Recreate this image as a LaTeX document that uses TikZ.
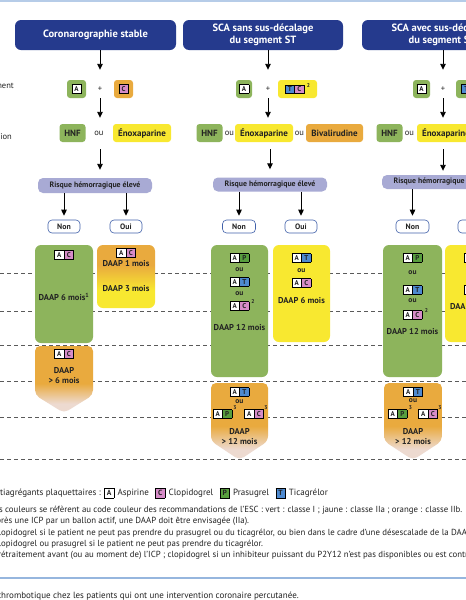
\documentclass[tikz,border=0pt]{standalone}
\usepackage{fontspec}
\setmainfont{PT Sans}
\usetikzlibrary{arrows.meta}
\definecolor{hblue}{RGB}{37,58,141}
\definecolor{gC}{RGB}{141,180,92}
\definecolor{yC}{RGB}{248,232,48}
\definecolor{oC}{RGB}{233,170,62}
\definecolor{lavC}{RGB}{168,170,212}
\definecolor{nbC}{RGB}{66,98,170}
\definecolor{paleC}{RGB}{237,218,208}
\definecolor{pkC}{RGB}{214,140,200}
\definecolor{prC}{RGB}{88,158,62}
\definecolor{tbC}{RGB}{78,138,208}
\definecolor{dashC}{RGB}{90,90,90}
\definecolor{lineC}{RGB}{150,182,222}
\definecolor{txtC}{RGB}{35,35,35}
\setlength{\fboxrule}{0.5pt}
\setlength{\fboxsep}{0pt}
\newcommand{\dsq}[2]{\fcolorbox{black}{#1}{\parbox[c][8.4pt][c]{9pt}{\centering\fontsize{7}{7.5}\selectfont\bfseries #2}}}
\newcommand{\lsq}[2]{\fcolorbox{black}{#1}{\parbox[c][9pt][c]{9pt}{\centering\fontsize{7.5}{8}\selectfont\bfseries #2}}}
\newcommand{\dgA}{\dsq{white}{A}}
\newcommand{\dgC}{\dsq{pkC}{C}}
\newcommand{\dgP}{\dsq{prC}{P}}
\newcommand{\dgT}{\dsq{tbC}{T}}
\newcommand{\pairsep}{\kern-0.5pt}
\pgfdeclareverticalshading{arrowfade}{100bp}{color(0bp)=(paleC); color(32bp)=(paleC); color(47bp)=(oC); color(100bp)=(oC)}
\pgfdeclareverticalshading{oyfade}{100bp}{color(0bp)=(yC); color(39bp)=(yC); color(59bp)=(oC); color(100bp)=(oC)}
\begin{document}
\begin{tikzpicture}[x=1pt,y=-1pt,
 hdr/.style={fill=hblue, rounded corners=6pt, text=white, font=\bfseries\fontsize{10.5}{12.5}\selectfont, minimum width=160, minimum height=30, inner sep=0pt, align=center},
 drug/.style={rounded corners=3pt, minimum height=18, inner sep=0pt, font=\bfseries\fontsize{9}{10}\selectfont, text=txtC},
 word/.style={inner sep=0pt, minimum height=18, font=\fontsize{8.5}{9}\selectfont, text=txtC},
 risk/.style={fill=lavC, rounded corners=5pt, minimum width=114, minimum height=15, inner sep=0pt, font=\bfseries\fontsize{7.8}{8}\selectfont, text=txtC},
 yn/.style={draw=nbC, line width=0.6pt, fill=white, rounded corners=4pt, minimum width=32, minimum height=13, inner sep=0pt, font=\bfseries\fontsize{7.8}{8}\selectfont, text=txtC},
 big/.style={rounded corners=6pt, inner sep=0pt},
 lbl/.style={inner sep=0pt, font=\bfseries\fontsize{8.5}{9}\selectfont, text=txtC},
 ouw/.style={inner sep=0pt, font=\bfseries\fontsize{7.5}{8}\selectfont, text=txtC},
 sup/.style={inner sep=0pt, font=\bfseries\fontsize{5.5}{5.5}\selectfont, text=txtC},
 arr/.style={-{Triangle[length=6pt,width=5.5pt]}, line width=0.9pt},
 dashline/.style={dashC, line width=0.8pt, dash pattern=on 4pt off 3pt},
 note/.style={inner sep=0pt, anchor=base west, font=\fontsize{8.8}{10}\selectfont, text=txtC},
 leg/.style={inner sep=0pt, anchor=west, font=\fontsize{9}{10}\selectfont, text=txtC},
 side/.style={inner sep=0pt, anchor=east, font=\fontsize{8.5}{9}\selectfont, text=txtC}
]
\useasboundingbox (0,0) rectangle (466,600);
\clip (0,0) rectangle (466,600);
\fill[white] (0,0) rectangle (466,600);
\draw[lineC!70, line width=2pt] (0,1) -- (466,1);

% dashed guide lines
\foreach \yy in {273,311,345,381,417,459} {\draw[dashline] (0,\yy) -- (466,\yy);}

% headers
\node[hdr, minimum width=161] (h1) at (95.5,35) {Coronarographie stable};
\node[hdr] (h2) at (263,35) {SCA sans sus-décalage\\du segment ST};
\node[hdr] (h3) at (442,35) {SCA avec sus-décalage\\du segment ST};

% side labels
\node[side] (s1) at (14,86) {Traitement};
\node[side] (s2) at (12,137) {Anticoagulation};

% row 1
\node[drug, fill=gC, minimum width=19] (a1) at (76.5,89) {\dgA};
\node[word, minimum width=8] (p1) at (100,89) {+};
\node[drug, fill=oC, minimum width=19] (c1) at (123.5,89) {\dgC};
\node[drug, fill=gC, minimum width=16] (a2) at (244,89) {\dgA};
\node[word, minimum width=8] (p2) at (268,89) {+};
\node[drug, fill=yC, minimum width=39] (tc2) at (297.5,89) {\dgT\pairsep\dgC\hspace{2.5pt}\raisebox{3.5pt}{\fontsize{5.5}{5.5}\selectfont\bfseries 2}};
\node[drug, fill=gC, minimum width=17] (a3) at (421.5,89) {\dgA};
\node[word, minimum width=8] (p3) at (443,89) {+};
\node[drug, fill=gC, minimum width=30] (tp3) at (471,89) {\dgT\pairsep\dgP};

% row 2
\node[drug, fill=gC, minimum width=26] (hn1) at (72.5,133) {HNF};
\node[word] (o1) at (99,133) {ou};
\node[drug, fill=yC, minimum width=58] (en1) at (142,133) {Énoxaparine};
\node[drug, fill=gC, minimum width=26] (hn2) at (209.5,133) {HNF};
\node[word] (o2a) at (229.5,133) {ou};
\node[drug, fill=yC, minimum width=58] (en2) at (264,133) {Énoxaparine};
\node[word] (o2b) at (299.5,133) {ou};
\node[drug, fill=oC, minimum width=57] (bv2) at (334.5,133) {Bivalirudine};
\node[drug, fill=gC, minimum width=26] (hn3) at (389.5,133) {HNF};
\node[word] (o3) at (409.5,133) {ou};
\node[drug, fill=yC, minimum width=58] (en3) at (446,133) {Énoxaparine};

% risk
\node[risk] (k1) at (95,185.5) {Risque hémorragique élevé};
\node[risk, minimum height=14] (k2) at (270,184.5) {Risque hémorragique élevé};
\node[risk, minimum height=14] (k3) at (439,182) {Risque hémorragique élevé};

% non / oui
\node[yn] (n1) at (64,226.5) {Non};
\node[yn] (y1) at (126,226.5) {Oui};
\node[yn, minimum width=33] (n2) at (239,226.5) {Non};
\node[yn] (y2) at (301,226.5) {Oui};
\node[yn, minimum width=33] (n3) at (412.5,226.5) {Non};
\node[yn] (y3) at (474,226.5) {Oui};

% connectors
\draw[arr, shorten >=10pt] (h1.south -| p1) -- (p1.north);
\draw[arr, shorten >=6pt] (p1.south) -- (p1.south |- o1.north);
\draw[arr, shorten <=7pt, shorten >=8pt] (o1.south -| p1) -- (k1.north -| p1);
\draw[arr, shorten >=10pt] (h2.south -| p2) -- (p2.north);
\draw[arr, shorten >=6pt] (p2.south) -- (p2.south |- en2.north);
\draw[arr, shorten <=7pt, shorten >=8pt] (en2.south -| k2) -- (k2.north);
\draw[arr, shorten >=10pt] (h3.south -| p3) -- (p3.north);
\draw[arr, shorten >=6pt] (p3.south) -- (p3.south |- en3.north);
\draw[arr, shorten <=7pt, shorten >=4pt] (en3.south -| p3) -- (k3.north -| p3);
\draw[arr, shorten >=4pt] (k1.south -| n1) -- (n1.north);
\draw[arr, shorten >=4pt] (k1.south -| y1) -- (y1.north);
\draw[arr, shorten >=4pt] (k2.south -| n2) -- (n2.north);
\draw[arr, shorten >=4pt] (k2.south -| y2) -- (y2.north);
\draw[arr, shorten >=4pt] (k3.south -| n3) -- (n3.north);
\draw[arr, shorten >=4pt] (k3.south -| y3) -- (y3.north);

% big boxes
\node[big, fill=gC, minimum width=58, minimum height=98] (g1) at (64,294) {};
\node[big, shade, shading=oyfade, minimum width=58, minimum height=63] (ob1) at (126,276.5) {};
\node[big, fill=gC, minimum width=57, minimum height=132] (g2) at (239.5,311) {};
\node[big, fill=yC, minimum width=57, minimum height=97] (yb2) at (301.5,293.5) {};
\node[big, fill=gC, minimum width=59, minimum height=132] (g3) at (412.5,311) {};
\node[big, fill=yC, minimum width=57, minimum height=97] (yb3) at (473.5,293.5) {};

% faded arrows
\path[shade, shading=arrowfade, rounded corners=5pt] (64,346) -- (93,346) -- (93,395) -- (64,413) -- (35,395) -- (35,346) -- cycle;
\path[shade, shading=arrowfade, rounded corners=5pt] (239.5,383) -- (268,383) -- (268,441) -- (239.5,460) -- (211,441) -- (211,383) -- cycle;
\path[shade, shading=arrowfade, rounded corners=5pt] (413,383) -- (442,383) -- (442,441) -- (413,460) -- (384,441) -- (384,383) -- cycle;

% column 1 contents
\node[lbl] (t1a) at (64,255) {\dgA\pairsep\dgC};
\node[lbl] (t1b) at (64,297) {DAAP 6 mois\textsuperscript{1}};
\node[lbl] (t1c) at (126,253) {\dgA\pairsep\dgC};
\node[lbl] (t1d) at (126,264) {DAAP 1 mois};
\node[lbl] (t1e) at (126,289) {DAAP 3 mois};
\node[lbl] (t1f) at (64,354) {\dgA\pairsep\dgC};
\node[lbl] (t1g) at (64,371) {DAAP};
\node[lbl] (t1h) at (64,381) {> 6 mois};

% column 2 contents
\node[lbl] (t2a) at (239.5,258) {\dgA\pairsep\dgP};
\node[ouw] (t2b) at (239.5,270) {ou};
\node[lbl] (t2c) at (239.5,282) {\dgA\pairsep\dgT};
\node[ouw] (t2d) at (239.5,294) {ou};
\node[lbl] (t2e) at (239.5,306) {\dgA\pairsep\dgC};
\node[sup] (t2f) at (253,302) {2};
\node[lbl] (t2g) at (239.5,328) {DAAP 12 mois};
\node[lbl] (t2h) at (301.5,258) {\dgA\pairsep\dgT};
\node[ouw] (t2i) at (301.5,271) {ou};
\node[lbl] (t2j) at (301.5,283) {\dgA\pairsep\dgC};
\node[lbl] (t2k) at (301.5,301) {DAAP 6 mois};
\node[lbl] (t2l) at (239.5,392) {\dgA\pairsep\dgT};
\node[ouw] (t2m) at (239.5,402) {ou};
\node[lbl] (t2n) at (222.5,414) {\dgA\pairsep\dgP};
\node[sup] (t2o) at (235,408) {3};
\node[lbl] (t2p) at (254,414) {\dgA\pairsep\dgC};
\node[sup] (t2q) at (266,408) {3};
\node[lbl] (t2r) at (239.5,432) {DAAP};
\node[lbl] (t2s) at (239.5,442) {> 12 mois};

% column 3 contents
\node[lbl] (t3a) at (412.5,258) {\dgA\pairsep\dgP};
\node[ouw] (t3b) at (412.5,273) {ou};
\node[lbl] (t3c) at (412.5,290) {\dgA\pairsep\dgT};
\node[ouw] (t3d) at (412.5,301) {ou};
\node[lbl] (t3e) at (412.5,315) {\dgA\pairsep\dgC};
\node[sup] (t3f) at (426.5,311) {2};
\node[lbl] (t3g) at (412.5,332) {DAAP 12 mois};
\node[lbl] (t3h) at (473.5,258) {\dgA\pairsep\dgT};
\node[ouw] (t3i) at (473.5,273) {ou};
\node[lbl] (t3j) at (473.5,290) {\dgA\pairsep\dgP};
\node[lbl] (t3k) at (473.5,307) {DAAP 6 mois};
\node[lbl] (t3l) at (413,392) {\dgA\pairsep\dgT};
\node[ouw] (t3m) at (413,401) {ou};
\node[lbl] (t3n) at (397.5,414) {\dgA\pairsep\dgP};
\node[sup] (t3o) at (410.5,408) {3};
\node[lbl] (t3p) at (428,414) {\dgA\pairsep\dgC};
\node[sup] (t3q) at (440,408) {3};
\node[lbl] (t3r) at (413,432) {DAAP};
\node[lbl] (t3s) at (413,442) {> 12 mois};

% legend
\node[leg, anchor=east] (lg0) at (101,493) {Antiagrégants plaquettaires :};
\node[leg] (lgA) at (104,493) {\lsq{white}{A}};
\node[leg] (lgAt) at ([xshift=3pt]lgA.east) {Aspirine};
\node[leg] (lgC) at ([xshift=6pt]lgAt.east) {\lsq{pkC}{C}};
\node[leg] (lgCt) at ([xshift=3pt]lgC.east) {Clopidogrel};
\node[leg] (lgP) at ([xshift=6pt]lgCt.east) {\lsq{prC}{P}};
\node[leg] (lgPt) at ([xshift=3pt]lgP.east) {Prasugrel};
\node[leg] (lgT) at ([xshift=6pt]lgPt.east) {\lsq{tbC}{T}};
\node[leg] (lgTt) at ([xshift=3pt]lgT.east) {Ticagrélor};

% notes
\node[note] (f1) at (5,512) {\llap{Les }couleurs se réfèrent au code couleur des recommandations de l’ESC : vert : classe I ; jaune : classe IIa ; orange : classe IIb.};
\node[note] (f2) at (1,523) {\llap{\textsuperscript{1} Ap}rès une ICP par un ballon actif, une DAAP doit être envisagée (IIa).};
\node[note] (f3) at (1,535) {\llap{\textsuperscript{2} Cl}opidogrel si le patient ne peut pas prendre du prasugrel ou du ticagrélor, ou bien dans le cadre d’une désescalade de la DAAP.};
\node[note] (f4) at (1,546) {\llap{\textsuperscript{3} Cl}opidogrel ou prasugrel si le patient ne peut pas prendre du ticagrélor.};
\node[note] (f5) at (1,557) {\llap{\textsuperscript{4} Pr}étraitement avant (ou au moment de) l’ICP ; clopidogrel si un inhibiteur puissant du P2Y12 n’est pas disponibles ou est contre-indiqué.};
\draw[lineC, line width=1.2pt] (0,578) -- (466,578);
\node[note, font=\fontsize{9}{10}\selectfont] (cap) at (1,598.5) {\llap{Traitement antit}hrombotique chez les patients qui ont une intervention coronaire percutanée.};
\end{tikzpicture}
\end{document}
